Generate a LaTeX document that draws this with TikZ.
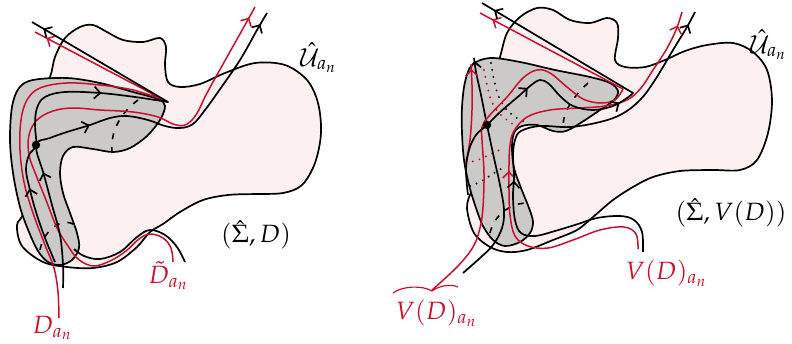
\documentclass[tikz,border=0pt]{standalone}
\usepackage{mathpazo}
\usetikzlibrary{arrows.meta,decorations.markings}
\definecolor{rdc}{RGB}{200,16,46}
\definecolor{pinkc}{RGB}{252,240,240}
\definecolor{grayc}{RGB}{204,201,201}
\tikzset{
  >={Straight Barb[length=6pt,width=12pt]},
  pinkreg/.style={fill=pinkc, draw=black, line width=1.7pt},
  grayreg/.style={fill=grayc, draw=black, line width=1.7pt},
  blk/.style={draw=black, line width=1.7pt, line join=round},
  rd/.style={draw=rdc, line width=1.5pt, line join=round},
  arr/.style={postaction={decorate,decoration={markings,mark=at position #1 with {\arrow{>}}}}},
  dashtick/.style={draw=black, line width=1.6pt, dash pattern=on 6pt off 8pt},
  dotblk/.style={draw=black, line width=2.2pt, line cap=round, dash pattern=on 0pt off 7pt},
  dotrd/.style={draw=rdc, line width=2.2pt, line cap=round, dash pattern=on 0pt off 7pt},
  lbl/.style={font=\fontsize{25}{29}\selectfont, inner sep=0pt},
}
\begin{document}
\begin{tikzpicture}[x=1pt,y=-1pt]
\useasboundingbox (0,0) rectangle (792,343);

% ===================== LEFT =====================
\path[pinkreg] plot[smooth cycle, tension=0.55] coordinates {(50,77) (55,57) (65,38) (80,27) (93,25) (107,32) (123,40) (143,42) (160,38) (166,47) (165,65) (168,82) (180,87) (200,84) (225,73) (255,63) (285,65) (307,80) (318,103) (321,133) (315,163) (302,185) (283,193) (255,194) (228,195) (203,200) (180,212) (163,224) (150,232) (137,247) (117,262) (93,268) (67,267) (43,262) (22,246) (17,225) (24,210) (30,150) (38,100)};

\path[grayreg] plot[smooth cycle, tension=0.55] coordinates {(33,80) (67,78) (100,83) (133,92) (158,99) (165,106) (160,120) (147,136) (130,148) (113,152) (93,149) (73,147) (63,156) (60,173) (63,193) (70,213) (77,233) (79,248) (72,260) (60,265) (48,262) (38,251) (29,232) (20,207) (13,173) (10,140) (12,107) (19,88)};

% dashed cross-sections
\path[dashtick] (138,100) .. controls (122,112) and (110,130) .. (112,152);
\path[dashtick] (40,250) .. controls (44,228) and (66,214) .. (78,228);

% black open curve at bottom
\path[blk] plot[smooth, tension=0.6] coordinates {(74,249) (84,256) (100,259) (120,252) (137,237) (150,230) (165,235) (177,247) (185,262)};

% red D_{a_n}
\path[rd, arr=-13pt] plot[smooth, tension=0.6] coordinates {(59,318) (58,292) (54,268) (45,245) (33,213) (24,182) (20,150) (21,120) (27,100) (40,88) (67,83) (100,85) (133,90) (164,100)} -- (35,32);

% red tilde D
\path[rd, arr=-12pt] plot[smooth, tension=0.6] coordinates {(173,262) (171,248) (163,238) (150,234) (139,239) (126,251) (110,261) (93,266) (78,259) (68,246) (57,228) (46,200) (36,175) (29,155) (29,135) (37,120) (53,111) (73,108) (100,110) (133,112) (158,117) (173,124) (185,125) (196,115) (207,93) (227,57) (245,25) (255,7)};

% black B1
\path[blk, arr=78pt, arr=233pt, arr=-13pt] plot[smooth, tension=0.6] coordinates {(55,262) (45,238) (36,212) (30,190) (26,170) (29,155) (36,145) (35,125) (37,108) (45,97) (65,92) (100,93) (135,97) (168,102)} -- (32,22);

% black B3
\path[blk, arr=118pt, arr=205pt, arr=-13pt] plot[smooth, tension=0.6] coordinates {(63,288) (63,265) (60,235) (52,205) (44,175) (36,145) (50,138) (67,132) (90,125) (110,118) (127,116) (148,120) (165,126) (180,128) (193,124) (205,110) (218,92) (240,60) (257,30) (267,13)};

\fill (36,145) circle (4.2pt) coordinate (dotL);

\node[lbl] (U1) at (318,58) {$\hat{\mathcal{U}}_{a_n}$};
\node[lbl] (S1) at (256,235) {$(\hat{\Sigma},D)$};
\node[lbl, text=rdc] (Dt) at (168,276) {$\tilde{D}_{a_n}$};
\node[lbl, text=rdc] (Da) at (52,328) {$D_{a_n}$};

% ===================== RIGHT =====================
\path[pinkreg] plot[smooth cycle, tension=0.55] coordinates {(500,57) (507,33) (520,17) (537,8) (553,10) (570,20) (590,23) (607,18) (617,23) (618,38) (615,60) (625,67) (645,67) (665,60) (685,51) (707,45) (733,43) (753,52) (767,70) (772,100) (768,133) (757,160) (740,170) (713,170) (680,171) (653,177) (633,187) (613,200) (593,217) (577,230) (553,240) (527,250) (507,252) (490,247) (474,233) (467,208) (472,191) (482,184) (486,130) (494,75)};

\path[grayreg] plot[smooth cycle, tension=0.55] coordinates {(472,65) (490,58) (520,62) (555,70) (590,77) (610,83) (618,91) (614,100) (600,110) (582,122) (566,131) (553,131) (537,125) (522,126) (514,133) (512,148) (514,168) (521,188) (529,208) (533,222) (530,233) (520,242) (505,246) (493,240) (483,226) (476,208) (469,185) (464,160) (462,133) (462,107) (465,82)};

% dotted hidden arcs
\path[dotblk] plot[smooth] coordinates {(491,63) (494,80) (498,95) (505,108) (515,117) (523,121)};
\path[dotrd] plot[smooth] coordinates {(484,70) (487,85) (491,100) (498,112) (507,120) (514,125)};
\path[dotrd] plot[smooth] coordinates {(466,163) (478,160) (491,154) (504,148)};
\path[dotblk] plot[smooth] coordinates {(470,186) (482,181) (494,173) (506,166)};

% dashed cross-sections
\path[dashtick] (588,83) .. controls (575,95) and (563,110) .. (563,127);
\path[dashtick] (490,233) .. controls (494,215) and (510,204) .. (525,203);

% black L1 (line through the dot)
\path[blk, arr=-3pt] plot[smooth, tension=0.6] coordinates {(463,273) (480,258) (493,245) (502,228) (504,210) (500,185) (494,158) (487,125) (481,95) (476,72) (474,58)};

% red r_a
\path[rd, arr=-5pt] plot[smooth, tension=0.6] coordinates {(466,162) (470,140) (472,110) (472,85) (471,64)};

% red r_b (left label)
\path[rd, arr=-14pt] plot[smooth, tension=0.6] coordinates {(432,290) (457,267) (473,247) (480,228) (483,207) (484,173) (482,140) (482,127) (489,116) (507,97) (523,78) (537,70) (550,73) (567,87) (583,99) (600,103) (615,100) (623,89)} -- (480,13);

% red r_c (right label)
\path[rd, arr=212pt, arr=-14pt] plot[smooth, tension=0.6] coordinates {(638,249) (636,234) (624,227) (600,230) (573,240) (548,248) (528,246) (515,236) (510,215) (509,190) (509,165) (510,145) (514,131) (527,117) (550,110) (580,108) (605,106) (627,100) (641,88) (653,70) (666,50) (676,30) (682,12)};

% black B1'
\path[blk, arr=132pt, arr=238pt, arr=-14pt] plot[smooth, tension=0.6] coordinates {(468,195) (466,170) (469,150) (476,135) (487,125) (497,115) (507,106) (520,95) (530,86) (540,80) (549,84) (560,96) (573,106) (593,110) (613,106) (627,98) (633,93)} -- (482,3);

% black B3'
\path[blk, arr=206pt, arr=-14pt] plot[smooth, tension=0.6] coordinates {(643,252) (642,232) (634,220) (620,216) (597,218) (578,224) (555,231) (535,236) (521,233) (515,220) (513,197) (514,177) (513,155) (515,140) (521,131) (540,126) (570,127) (600,122) (622,114) (640,100) (655,80) (673,50) (687,27) (695,12)};

\fill (487,125) circle (4.2pt) coordinate (dotR);

% brace over left label
\path[draw=rdc, line width=1.2pt] (393,293) .. controls (402,286) and (422,285) .. (432,291) .. controls (440,285) and (452,284) .. (458,287);

\node[lbl] (U2) at (768,45) {$\hat{\mathcal{U}}_{a_n}$};
\node[lbl] (S2) at (731,213) {$(\hat{\Sigma},V(D))$};
\node[lbl, text=rdc] (V1) at (666,273) {$V(D)_{a_n}$};
\node[lbl, text=rdc] (V2) at (436,313) {$V(D)_{a_n}$};
\end{tikzpicture}
\end{document}
